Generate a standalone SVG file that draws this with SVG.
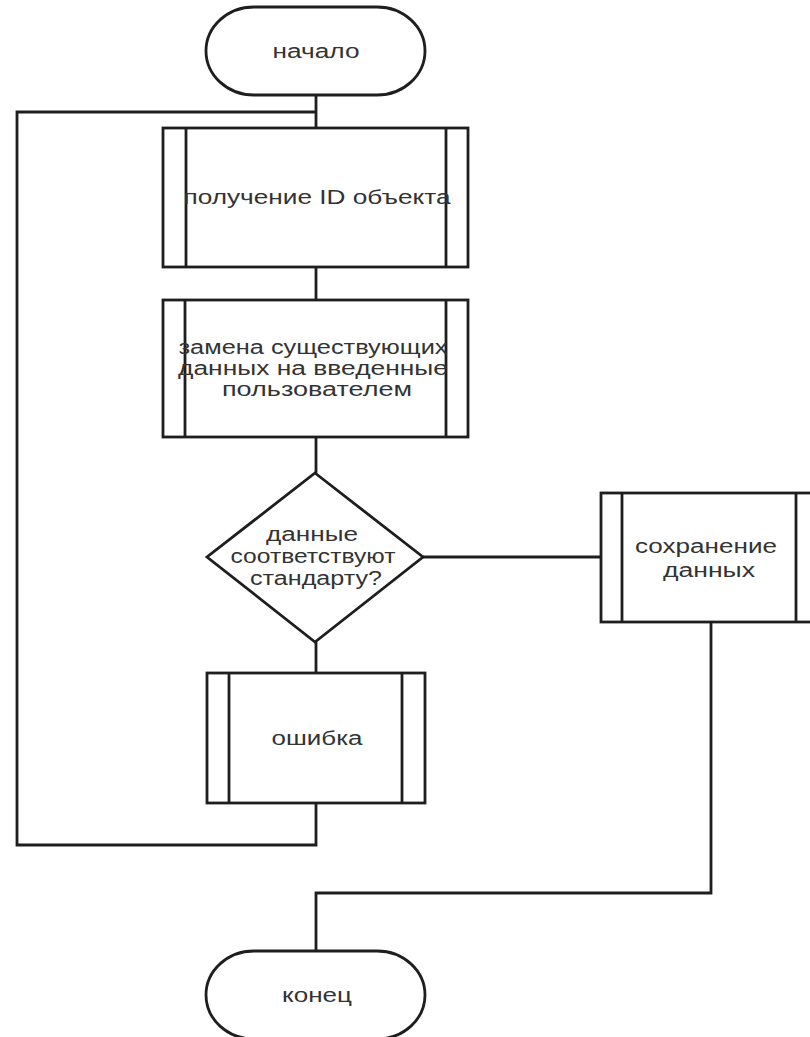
<svg xmlns="http://www.w3.org/2000/svg" width="810" height="1037" viewBox="0 0 810 1037">
<style>
  .shape { fill: #ffffff; stroke: #1e1e1e; stroke-width: 2.8; }
  .inner { fill: none; stroke: #1e1e1e; stroke-width: 2.8; }
  .conn { fill: none; stroke: #1e1e1e; stroke-width: 2.8; stroke-linejoin: miter; }
  .lbl { font-family: "Liberation Sans", Arial, sans-serif; font-size: 20px; fill: #333333; text-anchor: middle; }
</style>
<rect x="0" y="0" width="810" height="1037" fill="#ffffff"/>
<g id="connectors">
  <path class="conn" d="M316,95 V128"/>
  <path class="conn" d="M316,803 V845 H17 V112 H316"/>
  <path class="conn" d="M316,267 V300"/>
  <path class="conn" d="M316,437 V473"/>
  <path class="conn" d="M316,642 V673"/>
  <path class="conn" d="M423,557 H601"/>
  <path class="conn" d="M711,622 V893 H316 V951"/>
</g>
<g id="start">
  <rect class="shape" x="206" y="7" width="219" height="88" rx="48" ry="44"/>
  <text class="lbl" x="316" y="58" textLength="87" lengthAdjust="spacingAndGlyphs">начало</text>
</g>
<g id="get-id">
  <rect class="shape" x="163" y="128" width="305" height="139"/>
  <line class="inner" x1="186" y1="128" x2="186" y2="267"/>
  <line class="inner" x1="446" y1="128" x2="446" y2="267"/>
  <text class="lbl" x="317" y="204" textLength="267" lengthAdjust="spacingAndGlyphs">получение ID объекта</text>
</g>
<g id="replace">
  <rect class="shape" x="163" y="300" width="305" height="137"/>
  <line class="inner" x1="185" y1="300" x2="185" y2="437"/>
  <line class="inner" x1="446" y1="300" x2="446" y2="437"/>
  <text class="lbl" x="313" y="354" textLength="269" lengthAdjust="spacingAndGlyphs">замена существующих</text>
  <text class="lbl" x="313" y="375" textLength="270" lengthAdjust="spacingAndGlyphs">данных на введенные</text>
  <text class="lbl" x="317" y="396" textLength="190" lengthAdjust="spacingAndGlyphs">пользователем</text>
</g>
<g id="check">
  <polygon class="shape" points="315,473 423,557 315,642 207,557"/>
  <text class="lbl" x="312" y="541" textLength="92" lengthAdjust="spacingAndGlyphs">данные</text>
  <text class="lbl" x="313" y="563" textLength="165" lengthAdjust="spacingAndGlyphs">соответствуют</text>
  <text class="lbl" x="316" y="585" textLength="132" lengthAdjust="spacingAndGlyphs">стандарту?</text>
</g>
<g id="save">
  <rect class="shape" x="601" y="493" width="216" height="129"/>
  <line class="inner" x1="622" y1="493" x2="622" y2="622"/>
  <line class="inner" x1="796" y1="493" x2="796" y2="622"/>
  <text class="lbl" x="706" y="553" textLength="142" lengthAdjust="spacingAndGlyphs">сохранение</text>
  <text class="lbl" x="709" y="577" textLength="92" lengthAdjust="spacingAndGlyphs">данных</text>
</g>
<g id="error">
  <rect class="shape" x="207" y="673" width="218" height="130"/>
  <line class="inner" x1="229" y1="673" x2="229" y2="803"/>
  <line class="inner" x1="402" y1="673" x2="402" y2="803"/>
  <text class="lbl" x="317" y="745" textLength="91" lengthAdjust="spacingAndGlyphs">ошибка</text>
</g>
<g id="end">
  <rect class="shape" x="206" y="951" width="219" height="88" rx="48" ry="44"/>
  <text class="lbl" x="317" y="1002" textLength="70" lengthAdjust="spacingAndGlyphs">конец</text>
</g>
</svg>
